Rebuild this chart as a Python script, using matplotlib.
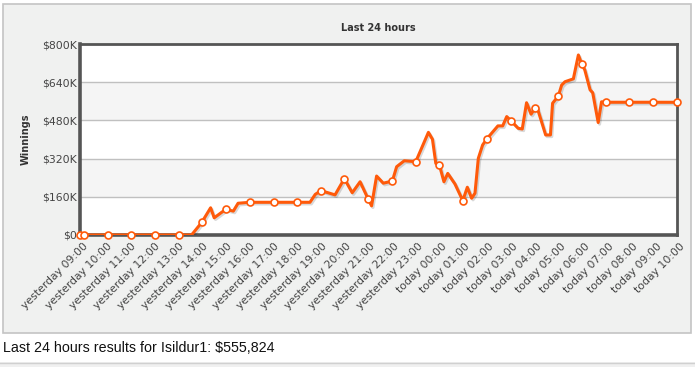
import matplotlib
matplotlib.use("Agg")
import matplotlib.pyplot as plt
import matplotlib.patheffects as pe
import matplotlib.transforms as mtransforms
from matplotlib.patches import Rectangle
from matplotlib.lines import Line2D

# ---- data ----
tick_labels = ["yesterday %02d:00" % h for h in range(9, 24)] + ["today %02d:00" % h for h in range(0, 11)]

line_hours = [0, 0.18, 1.16, 2.15, 3.13, 4.13, 4.67, 5.1, 5.47, 5.62, 6.11, 6.42, 6.62, 7.12,
              8.11, 9.1, 9.63, 9.85, 10.09, 10.68, 11.07, 11.4, 11.73, 12.07, 12.21, 12.42,
              12.7, 13.08, 13.26, 13.58, 14.06, 14.59, 14.76, 14.9, 15.05, 15.24, 15.4, 15.7,
              16.03, 16.22, 16.4, 16.54, 16.68, 16.86, 17.03, 17.5, 17.7, 17.87, 18.05, 18.35,
              18.52, 18.7, 18.89, 19.05, 19.14, 19.5, 19.7, 19.79, 20.03, 20.17, 20.31, 20.66,
              20.87, 21.01, 21.14, 21.36, 21.47, 21.7, 21.84, 22.02, 23.0, 24.0, 25.0]
line_values = [0, 0, 0, 0, 0, 0, 0, 53, 114, 72, 108, 100, 133, 137,
               137, 137, 137, 170, 186, 168, 236, 177, 223, 150, 122, 247,
               217, 226, 286, 311, 307, 430, 401, 300, 293, 223, 258, 214,
               144, 200, 154, 175, 321, 377, 402, 457, 457, 496, 478, 447,
               444, 554, 506, 531, 535, 419, 419, 552, 582, 628, 642, 654,
               754, 717, 691, 608, 596, 471, 558, 556, 556, 556, 555.824]

marker_hours = [0, 0.18, 1.16, 2.15, 3.13, 4.13, 5.1, 6.11, 7.12, 8.11, 9.1, 10.09, 11.07,
                12.07, 13.08, 14.06, 15.05, 16.03, 17.03, 18.05, 19.05, 20.03, 21.01, 22.02,
                23.0, 24.0, 25.0]
marker_values = [0, 0, 0, 0, 0, 0, 53, 108, 137, 137, 137, 186, 236,
                 150, 226, 307, 293, 144, 402, 478, 531, 582, 717, 556,
                 556, 556, 555.824]

y_ticks = [0, 160, 320, 480, 640, 800]
y_tick_labels = ["$0", "$160K", "$320K", "$480K", "$640K", "$800K"]

# ---- figure ----
W, H = 695, 367
fig = plt.figure(figsize=(W / 100, H / 100), dpi=100)
fig.patch.set_facecolor("white")

def px(x0, y0, x1, y1):
    return (x0 / W, 1 - y1 / H, (x1 - x0) / W, (y1 - y0) / H)

# outer panel (drawn behind the axes)
l, b, w, h = px(2.5, 3.5, 690.5, 332.5)
fig.patches.append(Rectangle((l, b), w, h, transform=fig.transFigure,
                             facecolor="#f0f1f0", edgecolor="#c4c4c4", linewidth=1.2, zorder=-10))
# bottom strip
l, b, w, h = px(0, 362, 695, 367)
fig.patches.append(Rectangle((l, b), w, h, transform=fig.transFigure,
                             facecolor="#f0f0f0", edgecolor="none", zorder=-10))
fig.lines.append(Line2D([0, 1], [1 - 362.5 / H] * 2, transform=fig.transFigure,
                        color="#d0d0d0", linewidth=1.0, zorder=-9))

ax = fig.add_axes(px(80, 44, 677, 235))
ax.set_zorder(5)
ax.set_facecolor("white")
ax.set_xlim(0, 25)
ax.set_ylim(0, 800)

# alternating bands
for i in range(len(y_ticks) - 1):
    if i % 2 == 1:
        ax.axhspan(y_ticks[i], y_ticks[i + 1], color="#f5f5f5", zorder=0, linewidth=0)
for yv in y_ticks[1:-1]:
    ax.axhline(yv, color="#c0c0c0", linewidth=1.0, zorder=1)

ax.plot(line_hours, line_values, color="#ff5a0a", linewidth=2.2, zorder=3,
        solid_joinstyle="round",
        path_effects=[pe.SimpleLineShadow(offset=(1.0, -1.2), shadow_color="#000000", alpha=0.15),
                      pe.Normal()])
ax.plot(marker_hours, marker_values, linestyle="none", marker="o", markersize=5.0,
        markerfacecolor="white", markeredgecolor="#ff5a0a", markeredgewidth=1.2, zorder=4,
        clip_on=False)

for side in ["left", "bottom"]:
    ax.spines[side].set_color("#555555")
    ax.spines[side].set_linewidth(2.6)
for side in ["top", "right"]:
    ax.spines[side].set_color("#555555")
    ax.spines[side].set_linewidth(2.0)

ax.set_yticks(y_ticks)
ax.set_yticklabels(y_tick_labels, fontsize=7.8, color="#444444")
ax.set_xticks(range(len(tick_labels)))
ax.set_xticklabels(tick_labels, fontsize=7.8, color="#444444", rotation=45,
                   ha="right", va="top", rotation_mode="anchor")
ax.tick_params(axis="both", length=0, pad=2.5)
ax.tick_params(axis="x", pad=4.5)
shift = mtransforms.ScaledTranslation(3 / 100, 0, fig.dpi_scale_trans)
for lab in ax.get_xticklabels():
    lab.set_transform(lab.get_transform() + shift)

ax.set_title("Last 24 hours", fontsize=7, fontweight="bold", color="#333333", pad=9.5)

fig.text(26 / W, 1 - 139.5 / H, "Winnings", rotation=90, fontsize=7, fontweight="bold",
         color="#333333", ha="center", va="center")

fig.text(3 / W, 1 - 348.5 / H, "Last 24 hours results for Isildur1: $555,824",
         fontsize=10.3, family="Liberation Sans", color="#111111", va="center", ha="left")

fig.savefig("out.png", dpi=100, facecolor=fig.get_facecolor())
